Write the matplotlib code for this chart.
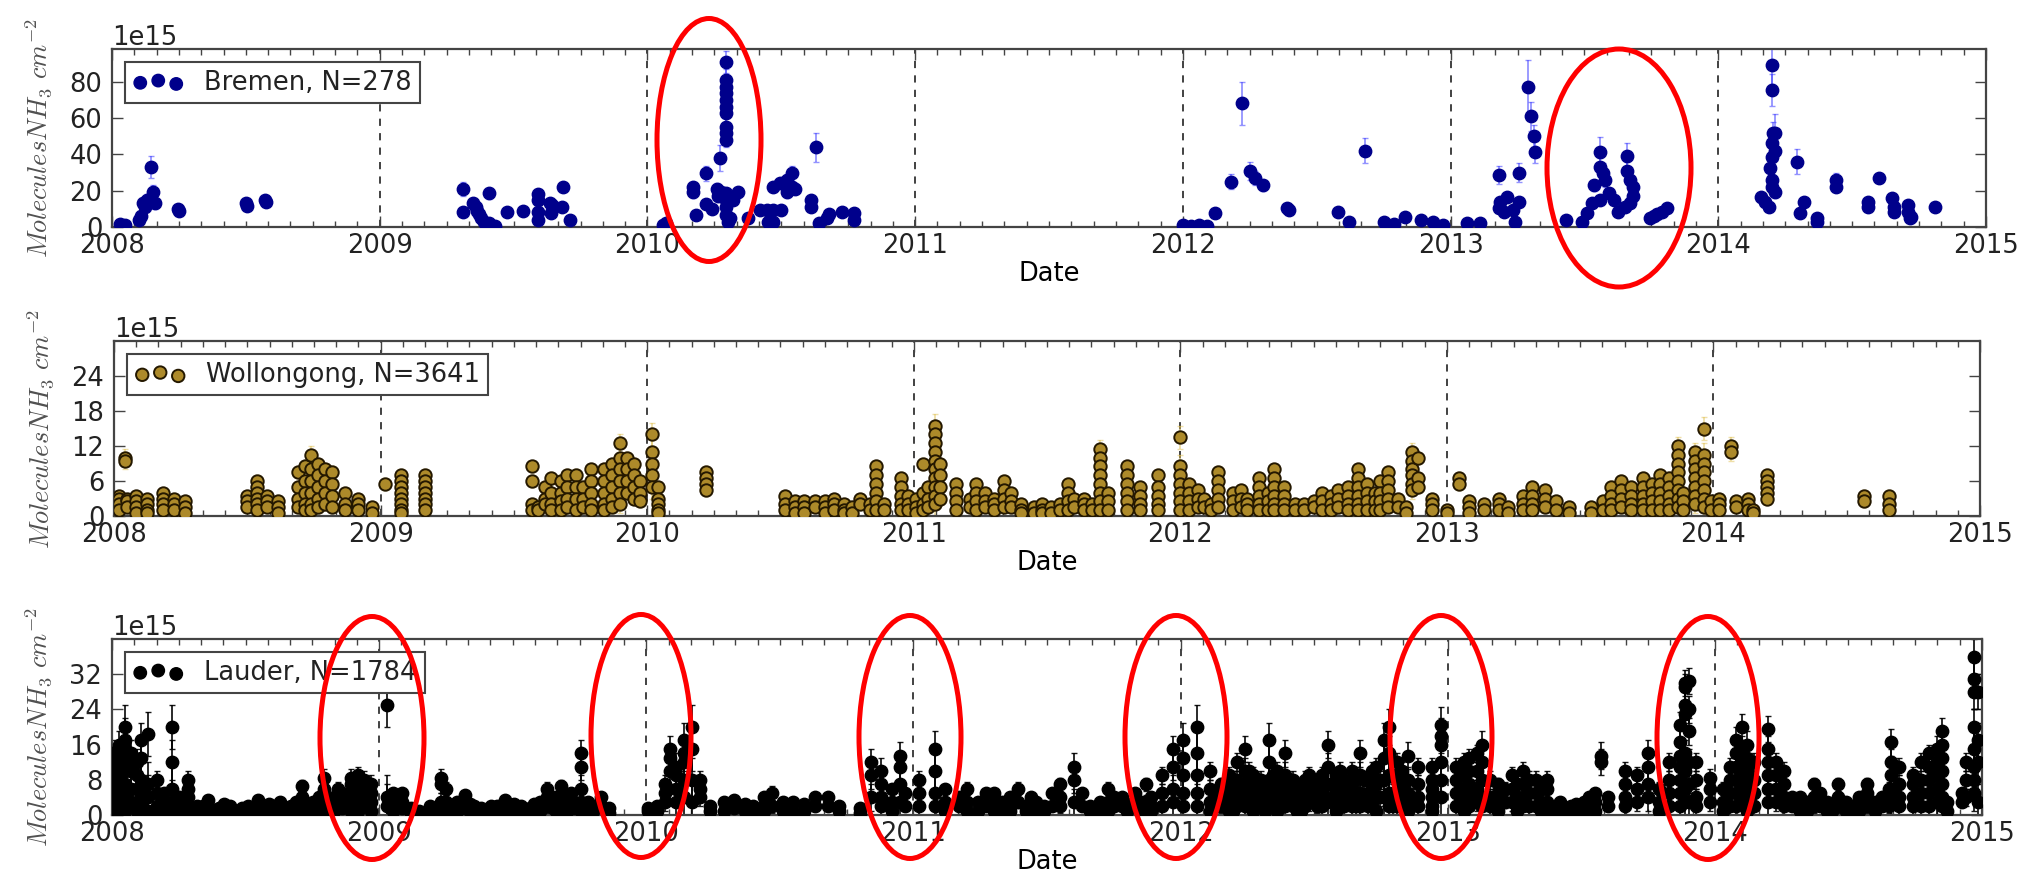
import numpy as np
import matplotlib
matplotlib.use("Agg")  # headless
import matplotlib.pyplot as plt
from matplotlib.patches import Ellipse
from matplotlib.ticker import MultipleLocator, ScalarFormatter

# NH3 total columns, values in 1e15 molecules cm^-2, dates as decimal years
# values

# --- Bremen: single retrievals ---
BREM_DATES = [
    2008.03, 2008.05, 2008.10, 2008.11, 2008.115, 2008.125, 2008.13, 2008.145, 2008.155, 2008.16,
    2008.245, 2008.25, 2008.50, 2008.505, 2008.57, 2008.575,
    2009.31, 2009.31, 2009.35, 2009.36, 2009.365, 2009.37, 2009.38, 2009.39, 2009.41, 2009.41,
    2009.43, 2009.475, 2009.535, 2009.59, 2009.59, 2009.59, 2009.59, 2009.635, 2009.645, 2009.64,
    2009.685, 2009.68, 2009.71,
    2010.06, 2010.07, 2010.17, 2010.17, 2010.18, 2010.22, 2010.22, 2010.24, 2010.26, 2010.265,
    2010.27, 2010.275, 2010.295, 2010.295, 2010.295, 2010.295, 2010.295, 2010.295, 2010.295, 2010.295,
    2010.295, 2010.295, 2010.295, 2010.295, 2010.295, 2010.295, 2010.30, 2010.31, 2010.32, 2010.34,
    2010.375, 2010.42, 2010.445, 2010.47, 2010.50, 2010.45, 2010.47, 2010.47, 2010.495, 2010.52,
    2010.54, 2010.54, 2010.55, 2010.52, 2010.63, 2010.61, 2010.61, 2010.64, 2010.67, 2010.68,
    2010.725, 2010.77, 2010.77,
    2012.00, 2012.03, 2012.06, 2012.09, 2012.12, 2012.18, 2012.22, 2012.25, 2012.27, 2012.30,
    2012.39, 2012.395, 2012.58, 2012.62, 2012.68, 2012.75, 2012.79, 2012.83, 2012.89, 2012.935,
    2012.97,
    2013.06, 2013.11, 2013.18, 2013.185, 2013.21, 2013.18, 2013.20, 2013.235, 2013.24, 2013.255,
    2013.255, 2013.29, 2013.30, 2013.31, 2013.315, 2013.43, 2013.49, 2013.51, 2013.53, 2013.535,
    2013.56, 2013.56, 2013.57, 2013.575, 2013.59, 2013.56, 2013.61, 2013.625, 2013.65, 2013.66,
    2013.66, 2013.67, 2013.68, 2013.68, 2013.67, 2013.745, 2013.76, 2013.77, 2013.79, 2013.81,
    2014.16, 2014.175, 2014.19, 2014.20, 2014.20, 2014.205, 2014.21, 2014.20, 2014.20, 2014.21,
    2014.195, 2014.20, 2014.20, 2014.21, 2014.295, 2014.32, 2014.305, 2014.37, 2014.37, 2014.44,
    2014.44, 2014.56, 2014.56, 2014.60, 2014.65, 2014.655, 2014.655, 2014.71, 2014.71, 2014.715,
    2014.72, 2014.81,
]
BREM_VALS = [
    1.5, 1, 4, 6, 13, 11, 15, 33, 19, 13,
    10, 9, 13, 11.5, 15, 14,
    21, 8, 13, 11, 9, 7, 5, 3, 18.5, 2,
    0.5, 8.5, 9, 18, 15, 8, 4, 13, 12, 7.5,
    22, 11, 4,
    1, 2, 22, 19, 6.5, 29.5, 12.5, 10, 21, 17,
    38, 19, 91, 81, 77, 74, 70, 66, 63, 55,
    52, 48, 18.5, 15, 11, 6.5, 3, 5, 15, 19,
    5, 9.5, 9.5, 9.5, 9.5, 3, 2.5, 22, 24, 26,
    29.5, 22, 21, 19, 44, 15, 11, 2, 5, 7,
    8.5, 7.5, 4,
    1, 0.5, 1, 0.5, 7.5, 25, 68, 31, 27, 23,
    10.5, 9.5, 8, 3, 42, 3, 1.5, 5.5, 4, 2.5,
    1,
    2, 2, 28.5, 14, 16.5, 10.5, 8, 9.5, 3, 30,
    14, 77, 61, 50, 41.5, 4, 2.5, 7.5, 13, 23,
    41.5, 33, 30, 26, 18.5, 15, 15, 8.5, 11, 39,
    31, 26, 22, 17, 13, 5, 6, 7, 8.5, 10.5,
    16.5, 14, 11, 89, 75.5, 52, 52, 46, 38.5, 42,
    32.5, 26, 22, 19, 36, 14, 7.5, 5, 2.5, 26,
    22, 14, 11, 27, 16, 11, 8, 12, 8, 5,
    5.5, 11,
]
BREM_ERRS = [
    1, 1, 1.5, 1.5, 3, 2, 3, 6, 4, 3,
    2, 2, 2, 2, 2, 2,
    4, 2, 3, 2, 2, 2, 2, 1, 3, 1,
    1, 2, 2, 3, 3, 2, 1, 2, 2, 2,
    3, 2, 1,
    1, 1, 3, 3, 2, 4, 2, 2, 3, 3,
    7, 3, 6, 6, 5, 5, 5, 5, 5, 5,
    4, 4, 3, 3, 2, 2, 1, 1, 2, 3,
    1, 2, 2, 2, 2, 1, 1, 3, 3, 3,
    4, 3, 3, 3, 8, 2, 2, 1, 1, 1,
    2, 2, 1,
    1, 1, 1, 1, 2, 4, 12, 5, 4, 3,
    2, 2, 2, 1, 7, 1, 1, 1, 1, 1,
    1,
    1, 1, 5, 2, 3, 2, 2, 2, 1, 5,
    2, 15, 8, 6, 6, 1, 1, 2, 2, 3,
    8, 5, 5, 4, 3, 2, 2, 2, 2, 7,
    5, 4, 3, 3, 2, 1, 1, 1, 1, 2,
    2, 2, 2, 10, 9, 6, 10, 5, 5, 5,
    4, 3, 3, 3, 7, 2, 2, 1, 1, 4,
    3, 2, 2, 3, 2, 2, 2, 2, 2, 1,
    1, 2,
]

# --- Wollongong: dense, so kept as columns of stacked retrievals ---
WOLL_DATES = [
    2008.017, 2008.04, 2008.05, 2008.083, 2008.125, 2008.183, 2008.225, 2008.267,
    2008.50, 2008.538, 2008.575, 2008.617, 2008.69, 2008.717, 2008.74, 2008.767, 2008.79, 2008.817,
    2008.867, 2008.917, 2008.967, 2009.017, 2009.075, 2009.167,
    2009.567, 2009.59, 2009.617, 2009.64, 2009.675, 2009.70, 2009.733, 2009.758, 2009.79, 2009.84,
    2009.867, 2009.90, 2009.925, 2009.95, 2009.975, 2010.017, 2010.042, 2010.22,
    2010.516, 2010.554, 2010.59, 2010.63, 2010.666, 2010.70, 2010.74, 2010.77, 2010.80, 2010.835,
    2010.86, 2010.89, 2010.954, 2010.98, 2011.01, 2011.035, 2011.054, 2011.08, 2011.10, 2011.16,
    2011.21, 2011.235, 2011.266, 2011.30, 2011.34, 2011.366, 2011.404, 2011.45, 2011.48, 2011.515,
    2011.55, 2011.58, 2011.60, 2011.64, 2011.67, 2011.70, 2011.73, 2011.80, 2011.85, 2011.915,
    2012.0, 2012.034, 2012.065, 2012.09, 2012.115, 2012.14, 2012.196, 2012.228, 2012.25, 2012.296,
    2012.33, 2012.35, 2012.39, 2012.43, 2012.465, 2012.50, 2012.53, 2012.565, 2012.59, 2012.63,
    2012.665, 2012.70, 2012.73, 2012.75, 2012.78, 2012.815, 2012.846, 2012.87, 2012.89, 2012.946,
    2013.0, 2013.046, 2013.084, 2013.14, 2013.196, 2013.228, 2013.285, 2013.32, 2013.37, 2013.41,
    2013.46, 2013.54, 2013.585, 2013.616, 2013.654, 2013.69, 2013.735, 2013.77, 2013.80, 2013.835,
    2013.866, 2013.885, 2013.93, 2013.966, 2013.99, 2014.02, 2014.066, 2014.085, 2014.13, 2014.15,
    2014.20, 2014.566, 2014.66,
]
WOLL_VALS = [
    [3.5, 3, 2, 1], [10, 9.5], [3, 2.5, 1.5], [3.5, 2.5, 1.5, 0.5], [3, 2, 1, 0.5],
    [4, 3, 2, 1], [3, 2, 1], [2.5, 1.5, 0.5],
    [3.5, 2.5, 1.5], [6, 5, 4, 3, 2, 1], [3.5, 2.5, 1.5], [2.5, 1.5, 0.5], [7.5, 5, 3, 1.5],
    [8.5, 6, 4, 2, 1], [10.5, 8, 6, 4, 2, 1], [9, 7, 5, 3, 1.5], [8, 6, 4, 2], [7.5, 5.5, 3.5, 1.5],
    [4, 2, 1], [3, 2, 1], [1.5, 0.5], [5.5], [7, 6, 5, 4, 3, 2, 1, 0.5], [7, 6, 5, 4, 3, 2, 1],
    [8.5, 6, 2, 1], [1.5, 1], [5, 3, 2], [6.5, 4, 2, 1], [6, 4, 2.5, 1], [7, 5, 3, 1.5],
    [7, 5, 3, 1], [5, 3, 1.5], [8, 6, 4, 2, 1], [8, 6, 4, 2, 1],
    [9, 7, 5, 3, 1.5], [12.5, 10, 8, 6, 4, 2], [10, 8, 6, 4], [9, 7, 5, 3], [6, 4, 2.5],
    [14, 11, 9, 7, 5], [5, 3, 2, 1, 0.5], [7.5, 6.5, 5.5, 4.5],
    [3.5, 2, 1], [2.5, 1.5, 0.5], [2.5, 1.5, 0.5], [2.5, 1.5], [2.5, 1.5, 0.5], [3, 2, 1],
    [2, 1, 0.5], [1.5, 0.5], [3, 2], [2, 1],
    [8.5, 7, 5.5, 4, 2.5, 1], [2, 1], [6.5, 5, 3.5, 2, 1], [3.5, 2, 1], [3, 1.5, 0.5],
    [9, 4, 2, 1], [5, 3, 1.5], [15.5, 14, 12.5, 11, 9.5, 8, 6.5, 5, 3.5, 2], [9, 7, 5, 3],
    [5.5, 4, 2.5, 1],
    [3, 1.5], [5.5, 4, 2.5, 1], [4, 2.5, 1.5], [3, 2, 1], [6, 4.5, 3, 1.5], [4, 2.5, 1.5],
    [2, 1, 0.5], [1.5, 0.5], [2, 1, 0.5], [1.5, 0.5],
    [2, 1], [5.5, 4, 2.5, 1], [3, 1.5], [3, 2, 1], [2, 1], [11.5, 10, 8.5, 7, 5.5, 4, 2.5, 1],
    [4, 2.5, 1], [8.5, 7, 5.5, 4, 2.5, 1], [5, 3.5, 2, 1], [7, 5, 3.5, 2, 1],
    [13.5, 8.5, 7, 5.5, 4, 2.5, 1], [5.5, 4, 2.5, 1], [4.5, 3, 1.5], [3, 1.5], [2, 1],
    [7.5, 6, 4.5, 3, 1.5], [4, 2.5, 1], [4.5, 3, 1.5], [3, 2, 1], [6.5, 5, 3.5, 2, 1],
    [4, 2.5, 1], [8, 6.5, 5, 3.5, 2, 1], [5, 3.5, 2, 1], [2, 1], [2, 1], [2.5, 1.5],
    [4, 2.5, 1], [3.5, 2, 1], [4.5, 3, 1.5], [5, 3.5, 2, 1],
    [8, 6.5, 5, 3.5, 2, 1], [5.5, 4, 2.5, 1], [4, 2.5, 1], [6, 4, 2.5, 1], [7.5, 6, 4.5, 3, 1.5],
    [3, 1.5], [1.5, 0.5], [11, 9.5, 8, 7, 5.5, 4.5], [10, 6.5, 5], [3, 2, 1],
    [1, 0.5], [6.5, 5.5], [2.5, 1.5, 0.5], [2, 1], [3, 2, 1], [1.5, 0.5], [3.5, 2, 1],
    [5, 3.5, 2, 1], [4.5, 3, 1.5], [2.5, 1],
    [1.5, 0.5], [1.5, 0.5], [2.5, 1], [5, 3.5, 2, 1], [6, 4.5, 3, 1.5], [5, 3.5, 2, 1],
    [6.5, 5, 3.5, 2, 1], [5.5, 4, 2.5, 1], [7, 5.5, 4, 2.5, 1], [6.5, 5, 3.5, 2, 1],
    [12, 10.5, 9, 7.5, 6, 4.5, 3, 1.5], [4, 2.5, 1], [11, 9.5, 8, 6.5, 5, 3.5, 2],
    [15, 10.5, 9, 7.5, 6, 4.5, 3, 1.5], [2.5, 1], [3, 2, 1], [12, 11], [2.5, 1.5], [3, 2, 1],
    [1, 0.5],
    [7, 6, 5, 4, 3], [3.5, 2.5], [3.5, 2, 1],
]
WOLL_ERRS = [
    0.8, 1.5, 0.8, 0.8, 0.8, 0.8, 0.8, 0.8,
    0.8, 1, 0.8, 0.8, 1, 1, 1.5, 1, 1, 1,
    0.8, 0.8, 0.8, 1, 1, 1,
    1, 0.8, 1, 1, 1, 1, 1, 1, 1, 1,
    1, 1.5, 1, 1, 1, 2, 0.8, 1,
    0.8, 0.8, 0.8, 0.8, 0.8, 0.8, 0.8, 0.8, 0.8, 0.8,
    1, 0.8, 1, 0.8, 0.8, 1, 0.8, 2, 1, 1,
    0.8, 1, 0.8, 0.8, 1, 0.8, 0.8, 0.8, 0.8, 0.8,
    0.8, 1, 0.8, 0.8, 0.8, 1.5, 0.8, 1, 1, 1,
    2, 1, 0.8, 0.8, 0.8, 1, 0.8, 0.8, 0.8, 1,
    0.8, 1, 1, 0.8, 0.8, 0.8, 0.8, 0.8, 0.8, 1,
    1, 1, 0.8, 1, 1, 0.8, 0.8, 1.5, 1, 0.8,
    0.8, 1, 0.8, 0.8, 0.8, 0.8, 0.8, 1, 0.8, 0.8,
    0.8, 0.8, 0.8, 1, 1, 1, 1, 1, 1, 1,
    1.5, 0.8, 1.5, 2, 0.8, 0.8, 1.5, 0.8, 0.8, 0.8,
    1, 1, 1,
]

# --- Lauder: also columns ---
LAUD_DATES = [
    2008.0, 2008.027, 2008.05, 2008.07, 2008.093, 2008.11, 2008.135, 2008.17, 2008.194, 2008.224,
    2008.252, 2008.285, 2008.32, 2008.36, 2008.40, 2008.44, 2008.486, 2008.545, 2008.586, 2008.628,
    2008.67, 2008.71, 2008.753, 2008.795, 2008.83, 2008.86, 2008.895, 2008.92, 2008.945, 2008.97,
    2009.03, 2009.053, 2009.087, 2009.23, 2009.27, 2009.32, 2009.354, 2009.42, 2009.47, 2009.504,
    2009.563, 2009.604, 2009.63, 2009.663, 2009.68, 2009.705, 2009.73, 2009.755, 2009.83, 2010.005,
    2010.04, 2010.07, 2010.09, 2010.11, 2010.14, 2010.17, 2010.20, 2010.29, 2010.37, 2010.44,
    2010.51, 2010.59, 2010.68, 2010.88, 2010.92, 2010.95, 2010.97, 2011.02, 2011.08, 2011.12,
    2011.17, 2011.24, 2011.30, 2011.36, 2011.42, 2011.46, 2011.52, 2011.60, 2011.66, 2011.70,
    2011.75, 2011.80, 2011.85, 2011.89, 2011.97, 2012.01, 2012.06, 2012.11, 2012.15, 2012.18,
    2012.21, 2012.24, 2012.27, 2012.30, 2012.33, 2012.36, 2012.39, 2012.42, 2012.45, 2012.48,
    2012.51, 2012.55, 2012.58, 2012.61, 2012.64, 2012.67, 2012.70, 2012.73, 2012.76, 2012.78,
    2012.81, 2012.85, 2012.89, 2012.94, 2012.975, 2013.03, 2013.06, 2013.08, 2013.11, 2013.13,
    2013.19, 2013.24, 2013.28, 2013.33, 2013.37, 2013.42, 2013.46, 2013.51, 2013.55, 2013.575,
    2013.60, 2013.665, 2013.71, 2013.75, 2013.79, 2013.83, 2013.87, 2013.89, 2013.905, 2013.93,
    2013.98, 2014.03, 2014.055, 2014.08, 2014.10, 2014.12, 2014.145, 2014.20, 2014.23, 2014.26,
    2014.32, 2014.37, 2014.42, 2014.46, 2014.49, 2014.54, 2014.57, 2014.60, 2014.65, 2014.66,
    2014.69, 2014.74, 2014.77, 2014.80, 2014.83, 2014.85, 2014.87, 2014.925, 2014.94, 2014.97,
    2014.985,
]
LAUD_VALS = [
    [14, 12, 10, 8, 6, 4, 2, 1], [16, 13, 10, 8, 6, 4, 2, 1], [20, 17, 15, 12, 10, 7, 5, 3, 1],
    [14, 10, 6, 3], [12, 9, 6, 3, 1], [17, 13, 8, 5, 2], [18.5, 7, 4, 1], [8, 5, 2, 1],
    [5, 3, 1], [20, 12, 6, 3, 1],
    [4, 2, 1], [8, 6, 4, 2, 1], [2, 1], [3.5, 2, 1], [1.5, 1], [2, 1], [1.5, 1], [3.5, 2, 1],
    [2.5, 1], [3, 2, 1],
    [2, 1], [6.5, 4, 2, 1], [3, 2, 1], [8.5, 6, 4, 2, 1], [4, 2, 1], [5, 3, 1.5],
    [8.5, 7, 5, 3, 1], [9, 7, 5, 3, 1], [8, 6, 4, 2], [7, 5, 3, 1],
    [25, 4, 2], [5, 3, 1], [5, 3, 1.5], [8.5, 7, 3, 1], [2, 1], [4.5, 3, 1.5], [2, 1], [2, 1],
    [3.5, 2, 1], [2.5, 1],
    [1.5, 1], [3, 2, 1], [6, 4, 2], [4, 2, 1], [6.5, 3, 1], [4, 2, 1], [3, 1.5],
    [14, 11, 6, 3, 1], [4, 2], [1.5, 1],
    [2, 1], [7, 5, 3], [15, 13, 10], [11, 9, 6, 3], [17, 14, 12, 8, 4], [20, 15, 8, 3],
    [8, 6, 4], [3, 1], [2.5, 1], [4, 2, 1],
    [3, 1], [2.5, 1], [4, 2], [10, 7, 4, 2], [6, 3, 1], [13.5, 11, 7, 3], [5, 2], [8, 5, 2],
    [15, 10, 5, 2], [6, 3, 1],
    [4, 2], [3, 1], [5, 3, 1], [4, 2, 1], [2, 1], [3, 1], [5, 2], [11, 8, 3], [2, 1], [3, 1],
    [4, 2], [2.5, 1], [3, 1], [4, 2, 1], [15, 11, 6, 3], [17, 13, 9, 5, 2], [20, 14, 9, 5, 2],
    [10, 6, 3, 1], [7, 4, 2], [9, 6, 3, 1],
    [12, 8, 5, 2], [15, 10, 7, 4, 2], [9, 6, 3, 1], [8, 5, 2], [17, 12, 8, 4, 2], [10, 7, 4, 1],
    [14, 9, 5, 2], [8, 5, 2], [6, 3, 1], [9, 6, 3],
    [7, 4, 2], [16, 11, 7, 3], [9, 6, 3, 1], [8, 5, 2], [10, 7, 4, 2], [14, 9, 5, 2], [8, 5, 2],
    [11, 7, 4, 1], [17, 13, 8, 4], [20, 14, 9, 5, 2],
    [12, 8, 4, 2], [13.5, 8, 5, 3, 1], [11, 7, 4, 2], [11, 8, 6, 4, 2, 1], [20.5, 18, 16, 12, 8, 4],
    [11, 8, 5, 2], [12, 9, 6, 3, 1], [13, 10, 7, 4, 2], [14, 10, 6, 3], [16, 12, 8, 4, 2],
    [7, 5, 3, 1], [9, 6, 3], [10, 7, 4, 2], [8, 5, 2], [8, 6, 3, 1], [3, 1.5], [2, 1], [3, 1],
    [5, 3, 1], [13.5, 12],
    [4, 2], [10, 7, 4, 2], [9, 6, 3], [14, 11, 7, 4], [6, 3, 1], [12, 8, 5, 2],
    [20.5, 16.5, 13.5, 11, 8, 5, 2], [30, 29, 25, 23, 14, 10, 6, 3], [30.5, 24, 19, 12, 7, 3],
    [12, 8, 4, 2],
    [8.5, 6, 3], [6, 3, 1], [11, 8, 5, 2], [17, 14, 11, 8, 5, 2], [20, 15, 12, 9, 6, 3],
    [16, 13, 10, 7, 4, 1], [12, 8, 5, 2], [19.5, 15, 12, 9, 6, 3], [12, 9, 6, 3], [10, 7, 4, 2],
    [4, 2, 1], [7, 4, 2], [3, 1], [7, 4, 2], [3, 1], [4, 2, 1], [7, 5, 2], [3, 1], [6, 4, 2],
    [16.5, 12, 9, 6, 3],
    [11, 7, 4, 2], [9, 7, 4, 2], [12, 8, 5, 2], [14, 11, 8, 5, 2], [15, 12, 9, 6, 3],
    [19, 16, 13, 10, 7, 4, 2], [3, 1], [5, 3], [12, 8, 4], [36, 31, 28, 20, 15, 11, 8, 5],
    [28, 17, 12, 3],
]
LAUD_ERRS = [
    3, 3, 5, 3, 3, 4, 5, 2, 1, 5,
    1, 2, 1, 1, 1, 1, 1, 1, 1, 1,
    1, 1.5, 1, 2, 1, 1, 2, 2, 2, 2,
    5, 1, 1, 2, 1, 1, 1, 1, 1, 1,
    1, 1, 1.5, 1, 1.5, 1, 1, 3, 1, 1,
    1, 2, 3, 3, 4, 5, 2, 1, 1, 1,
    1, 1, 1, 3, 1, 3, 1, 2, 4, 1,
    1, 1, 1, 1, 1, 1, 1, 3, 1, 1,
    1, 1, 1, 1, 3, 4, 5, 2, 1.5, 2,
    2, 3, 2, 2, 4, 2, 3, 2, 1.5, 2,
    1.5, 3, 2, 2, 2, 3, 2, 2, 4, 4,
    2, 3, 2, 2, 4, 2, 2, 2, 2, 3,
    1.5, 2, 2, 2, 2, 1, 1, 1, 1, 3,
    1, 2, 2, 3, 1.5, 2, 3, 3, 3, 2,
    2, 1.5, 2, 3, 3, 3, 2, 3, 2, 2,
    1, 1.5, 1, 1.5, 1, 1, 1.5, 1, 1.5, 3,
    2, 2, 2, 2, 3, 3, 1, 1, 2, 4,
    4,
]

# Lauder low-level retrievals that fill the gaps between the columns above
LAUD_FILL_DATES = [
    2008.30, 2008.34, 2008.38, 2008.42, 2008.46, 2008.51, 2008.525, 2008.565, 2008.61, 2008.65,
    2008.69, 2008.73, 2008.775, 2008.81, 2008.845,
    2009.12, 2009.15, 2009.19, 2009.25, 2009.29, 2009.34, 2009.38, 2009.40, 2009.44, 2009.49,
    2009.53, 2009.55, 2009.58, 2009.65, 2009.72, 2009.78, 2009.80, 2009.86,
    2010.24, 2010.33, 2010.40, 2010.47, 2010.55, 2010.63, 2010.72, 2010.80, 2010.84,
    2011.20, 2011.27, 2011.33, 2011.39, 2011.44, 2011.49, 2011.55, 2011.63, 2011.73, 2011.78,
    2011.83, 2011.87, 2011.93,
    2012.135, 2012.165, 2012.195, 2012.225, 2012.255, 2012.285, 2012.315, 2012.345, 2012.375,
    2012.405, 2012.435, 2012.465, 2012.495, 2012.53, 2012.565, 2012.595, 2012.625, 2012.655,
    2012.685, 2012.715, 2012.745, 2012.795, 2012.83,
    2013.16, 2013.215, 2013.26, 2013.305, 2013.35, 2013.40, 2013.44, 2013.48, 2013.53,
    2014.29, 2014.345, 2014.395, 2014.44, 2014.515, 2014.625,
]
LAUD_FILL_VALS = [
    [1.5, 0.5], [2, 1], [1, 0.5], [2.5, 1], [1, 0.5], [2, 1], [1.5], [1, 0.5], [2, 1], [1.5, 0.5],
    [3, 1], [2, 1], [4, 2], [3, 1.5], [6, 3],
    [1.5, 0.5], [1, 0.5], [2, 1], [6, 3], [3, 1], [2.5, 1], [1.5, 0.5], [1, 0.5], [2, 1],
    [1.5, 0.5], [2, 1], [1, 0.5], [2.5, 1], [3, 1.5], [5, 2], [3, 1], [2, 1], [1.5, 0.5],
    [2, 1], [3.5, 1.5], [2, 1], [5, 2], [3, 1], [4, 2], [2, 1], [1.5, 0.5], [12, 9, 4],
    [6, 3, 1], [5, 2], [3, 1], [6, 3], [4, 1.5], [2, 1], [7, 4, 2], [5, 2], [6, 3, 1], [4, 2],
    [5, 2], [7, 3], [9, 5, 2],
    [5, 2], [6, 3], [8, 4, 1], [6, 3], [10, 5, 2], [7, 3], [6, 3, 1], [9, 5, 2], [8, 4],
    [6, 3], [7, 4, 1], [8, 4, 2], [6, 3], [9, 5, 2], [7, 4], [10, 6, 2], [7, 3], [9, 5, 2],
    [8, 4], [10, 6, 3], [8, 4], [9, 5, 2], [10, 6, 3],
    [8, 4, 2], [6, 3], [7, 4, 1], [8, 5, 2], [6, 3, 1], [2, 1], [1.5, 0.5], [2.5, 1], [4, 2],
    [4, 2], [3, 1], [5, 2], [2, 1], [2, 1], [4, 2],
]
LAUD_FILL_ERRS = [
    1, 1, 1, 1, 1, 1, 1, 1, 1, 1,
    1, 1, 1, 1, 1.5,
    1, 1, 1, 1.5, 1, 1, 1, 1, 1, 1,
    1, 1, 1, 1, 1, 1, 1, 1,
    1, 1, 1, 1.5, 1, 1, 1, 1, 3,
    1.5, 1, 1, 1.5, 1, 1, 1.5, 1, 1.5, 1,
    1, 1.5, 2,
    1, 1.5, 2, 1.5, 2, 1.5, 1.5, 2, 2,
    1.5, 1.5, 2, 1.5, 2, 1.5, 2, 1.5, 2,
    2, 2, 2, 2, 2,
    2, 1.5, 1.5, 2, 1.5, 1, 1, 1, 1,
    1, 1, 1, 1, 1, 1,
]

YEARS = list(range(2008, 2016))

# red ellipses somebody drew over the figure: (cx, cy, w, h) in pixels from top-left
ELLIPSES = [
    (709, 140, 104, 243), (1619, 168, 144, 238),
    (372, 738, 104, 243), (641, 736, 100, 243), (910, 737, 102, 243),
    (1176, 737, 102, 243), (1441, 737, 102, 243), (1708, 738, 102, 243),
]

W, H = 2029, 876
TXT = "#222222"
SPINE = "#444444"

plt.rcParams.update({
    "font.family": "DejaVu Sans",
    "font.size": 18.5,
    "mathtext.fontset": "cm",
    "text.color": TXT,
    "xtick.color": SPINE,
    "ytick.color": SPINE,
    "xtick.labelcolor": TXT,
    "ytick.labelcolor": TXT,
})


def flatten(dates, stacks, errs):
    # columns -> flat arrays
    x, y, e = [], [], []
    for d, vals, er in zip(dates, stacks, errs):
        for v in vals:
            x.append(d)
            y.append(v)
            e.append(er)
    return np.array(x), np.array(y), np.array(e)


def setup_axes(ax, yticks, ymax):
    ax.set_xlim(2008, 2015)
    ax.set_xticks(YEARS)
    ax.set_xticklabels([str(y) for y in YEARS])
    ax.xaxis.set_minor_locator(MultipleLocator(1 / 12))
    ax.set_ylim(0, ymax * 1e15)
    ax.set_yticks([t * 1e15 for t in yticks])
    fmt = ScalarFormatter()
    fmt.set_powerlimits((15, 15))  # force the 1e15 offset
    ax.yaxis.set_major_formatter(fmt)
    ax.yaxis.get_offset_text().set_fontsize(18.5)
    ax.yaxis.get_offset_text().set_color(TXT)

    ax.grid(axis="x", which="major", linestyle=(0, (4, 4)), color="#333333", linewidth=1.3)
    ax.tick_params(which="both", direction="in", top=True, right=True, width=1)
    ax.tick_params(which="major", length=8)
    ax.tick_params(which="minor", length=4)
    ax.tick_params(axis="x", pad=4)
    ax.tick_params(axis="y", pad=7)
    for s in ax.spines.values():
        s.set_color(SPINE)
        s.set_linewidth(1.6)

    ax.set_xlabel("Date", labelpad=2)
    ax.set_ylabel(r"$Molecules NH_3\ cm^{-2}$", color="#505050", fontsize=19)
    ax.yaxis.set_label_coords(-0.031, 0.5)


def panel(ax, x, y, e, label, face, edge, ecol, ealpha, lw=1.0):
    ax.errorbar(x, y * 1e15, yerr=e * 1e15, fmt="none", ecolor=ecol, elinewidth=1.3,
                capsize=2.5, alpha=ealpha, zorder=2)
    ax.scatter(x, y * 1e15, s=80, c=face, edgecolors=edge, linewidths=lw,
               label=label, zorder=3)
    leg = ax.legend(loc="upper left", scatterpoints=3, fancybox=False, framealpha=1,
                    borderpad=0.3, borderaxespad=0.5, handletextpad=0.8, fontsize=18.5)
    leg.get_frame().set_edgecolor(SPINE)
    leg.get_frame().set_linewidth(1.5)


fig = plt.figure(figsize=(W / 100, H / 100), dpi=100)

# axes boxes measured in pixels: left, top, right, bottom
boxes = [(112, 49, 1986, 227), (114, 341, 1980, 516), (112, 639, 1982, 815)]
axes = []
for l, t, r, b in boxes:
    axes.append(fig.add_axes([l / W, 1 - b / H, (r - l) / W, (b - t) / H]))
ax1, ax2, ax3 = axes

# bremen
bx, by, be = np.array(BREM_DATES), np.array(BREM_VALS), np.array(BREM_ERRS)
panel(ax1, bx, by, be, "Bremen, N=278", "#00008b", "#00008b", "#3b3bff", 0.55)
setup_axes(ax1, [0, 20, 40, 60, 80], 98)

# wollongong
wx, wy, we = flatten(WOLL_DATES, WOLL_VALS, WOLL_ERRS)
panel(ax2, wx, wy, we, "Wollongong, N=3641", "#ad8a2a", "#241800", "#e0c050", 0.5, lw=1.4)
setup_axes(ax2, [0, 6, 12, 18, 24], 30)

# lauder - main columns plus the low fill
lx, ly, le = flatten(LAUD_DATES + LAUD_FILL_DATES, LAUD_VALS + LAUD_FILL_VALS,
                     LAUD_ERRS + LAUD_FILL_ERRS)
panel(ax3, lx, ly, le, "Lauder, N=1784", "black", "black", "black", 0.9)
setup_axes(ax3, [0, 8, 16, 24, 32], 40)

# the red highlight ellipses go on top of everything
for cx, cy, w, h in ELLIPSES:
    fig.add_artist(Ellipse((cx / W, 1 - cy / H), w / W, h / H, transform=fig.transFigure,
                           fill=False, edgecolor="red", linewidth=3.6, zorder=10))

fig.savefig("out.png", dpi=100)
print("saved out.png")
